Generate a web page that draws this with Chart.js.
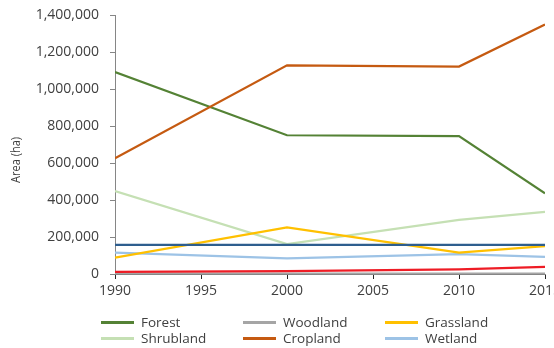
<!DOCTYPE html>
<html lang="en">
<head>
    <meta charset="UTF-8">
    <title>Land cover area</title>
    <script src="https://cdn.jsdelivr.net/npm/chart.js"></script>
    <style>
        body {
            margin: 0;
            background: #fff;
            font-family: "Open Sans", sans-serif;
            overflow: hidden;
        }
        #wrap {
            position: relative;
            width: 554px;
            height: 348px;
        }
        #chartBox {
            position: absolute;
            left: 0;
            top: 0;
            width: 554px;
            height: 300px;
        }
        #legend {
            position: absolute;
            left: 0;
            top: 0;
            width: 554px;
            height: 348px;
            pointer-events: none;
        }
        .item {
            position: absolute;
            display: flex;
            align-items: center;
            font-size: 13.5px;
            color: #404040;
            line-height: 16px;
        }
        .item .swatch {
            width: 33px;
            height: 3px;
            margin-right: 7px;
        }
    </style>
</head>
<body>
<div id="wrap">
    <div id="chartBox"><canvas id="chart"></canvas></div>
    <div id="legend"></div>
</div>

<script>
    // area in hectares for each survey year
    const years = [1990, 2000, 2010, 2015];
    const forest = [1092000, 750000, 745000, 436000];
    const woodland = [2000, 2000, 2000, 2000];
    const grassland = [88000, 252000, 115000, 151000];
    const shrubland = [448000, 162000, 292000, 336000];
    const cropland = [626000, 1128000, 1121000, 1348000];
    const wetland = [115000, 85000, 108000, 93000];
    const otherLand = [157000, 157000, 157000, 157000];
    const settlement = [12000, 16000, 25000, 39000];
    const xTicks = [1990, 1995, 2000, 2005, 2010, 2015];
    const yTicks = [0, 200000, 400000, 600000, 800000, 1000000, 1200000, 1400000];

    const series = [
        { label: 'Forest', data: forest, color: '#548235', legend: true },
        { label: 'Woodland', data: woodland, color: '#a5a5a5', legend: true },
        { label: 'Grassland', data: grassland, color: '#ffc000', legend: true },
        { label: 'Shrubland', data: shrubland, color: '#c5e0b4', legend: true },
        { label: 'Cropland', data: cropland, color: '#c55a11', legend: true },
        { label: 'Wetland', data: wetland, color: '#9dc3e6', legend: true },
        { label: 'Other land', data: otherLand, color: '#2e5e8e', legend: false },
        { label: 'Settlement', data: settlement, color: '#ee1c25', legend: false }
    ];

    // draw order: light lines first, strong ones on top
    const drawOrder = ['Shrubland', 'Wetland', 'Grassland', 'Other land', 'Woodland', 'Settlement', 'Forest', 'Cropland'];

    const datasets = series.map(s => ({
        label: s.label,
        data: years.map((y, i) => ({ x: y, y: s.data[i] })),
        borderColor: s.color,
        backgroundColor: s.color,
        borderWidth: 2.25,
        pointRadius: 0,
        tension: 0,
        order: drawOrder.length - drawOrder.indexOf(s.label)
    }));

    const fmt = v => v.toLocaleString('en-US');

    // rotated axis title, sits a little below the middle of the axis
    const axisTitle = {
        id: 'axisTitle',
        afterDraw(chart) {
            const c = chart.ctx;
            c.save();
            c.translate(16, 160);
            c.rotate(-Math.PI / 2);
            c.font = '13px "Open Sans"';
            c.fillStyle = '#404040';
            c.textAlign = 'center';
            c.textBaseline = 'middle';
            // the label is set in a narrow face, squeeze it to about 46px
            const w = c.measureText('Area (ha)').width;
            if (w > 46) c.scale(46 / w, 1);
            c.fillText('Area (ha)', 0, 0);
            c.restore();
        }
    };

    new Chart(document.getElementById('chart'), {
        type: 'line',
        data: { datasets },
        options: {
            responsive: true,
            maintainAspectRatio: false,
            animation: false,
            layout: { padding: { top: 15, right: 9, left: 0, bottom: 0 } },
            plugins: {
                legend: { display: false },
                tooltip: { enabled: false }
            },
            scales: {
                x: {
                    type: 'linear',
                    min: xTicks[0],
                    max: xTicks[xTicks.length - 1],
                    afterBuildTicks: s => { s.ticks = xTicks.map(v => ({ value: v })); },
                    afterFit: s => { s.height = 26; s.paddingLeft = 0; s.paddingRight = 0; },
                    border: { color: '#868686', width: 1 },
                    grid: { drawOnChartArea: false, drawTicks: true, tickLength: 5, tickColor: '#262626' },
                    ticks: {
                        color: '#404040',
                        font: { family: 'Open Sans', size: 14 },
                        padding: 4,
                        maxRotation: 0,
                        autoSkip: false,
                        callback: v => String(v)
                    }
                },
                y: {
                    min: 0,
                    max: yTicks[yTicks.length - 1],
                    afterBuildTicks: s => { s.ticks = yTicks.map(v => ({ value: v })); },
                    afterFit: s => { s.width = 115; s.paddingTop = 0; s.paddingBottom = 0; },
                    border: { color: '#868686', width: 1 },
                    grid: { drawOnChartArea: false, drawTicks: true, tickLength: 5, tickColor: '#868686' },
                    ticks: {
                        color: '#404040',
                        font: { family: 'Open Sans', size: 14 },
                        padding: 11,
                        callback: v => fmt(v)
                    }
                }
            }
        },
        plugins: [axisTitle]
    });

    // legend: three columns, two rows
    const legend = document.getElementById('legend');
    const colX = [101, 243, 385];
    const rowY = [314, 330];
    series.filter(s => s.legend).forEach((s, i) => {
        const el = document.createElement('div');
        el.className = 'item';
        el.style.left = colX[i % 3] + 'px';
        el.style.top = rowY[Math.floor(i / 3)] + 'px';
        el.innerHTML = `<span class="swatch" style="background:${s.color}"></span><span>${s.label}</span>`;
        legend.appendChild(el);
    });
</script>
</body>
</html>
